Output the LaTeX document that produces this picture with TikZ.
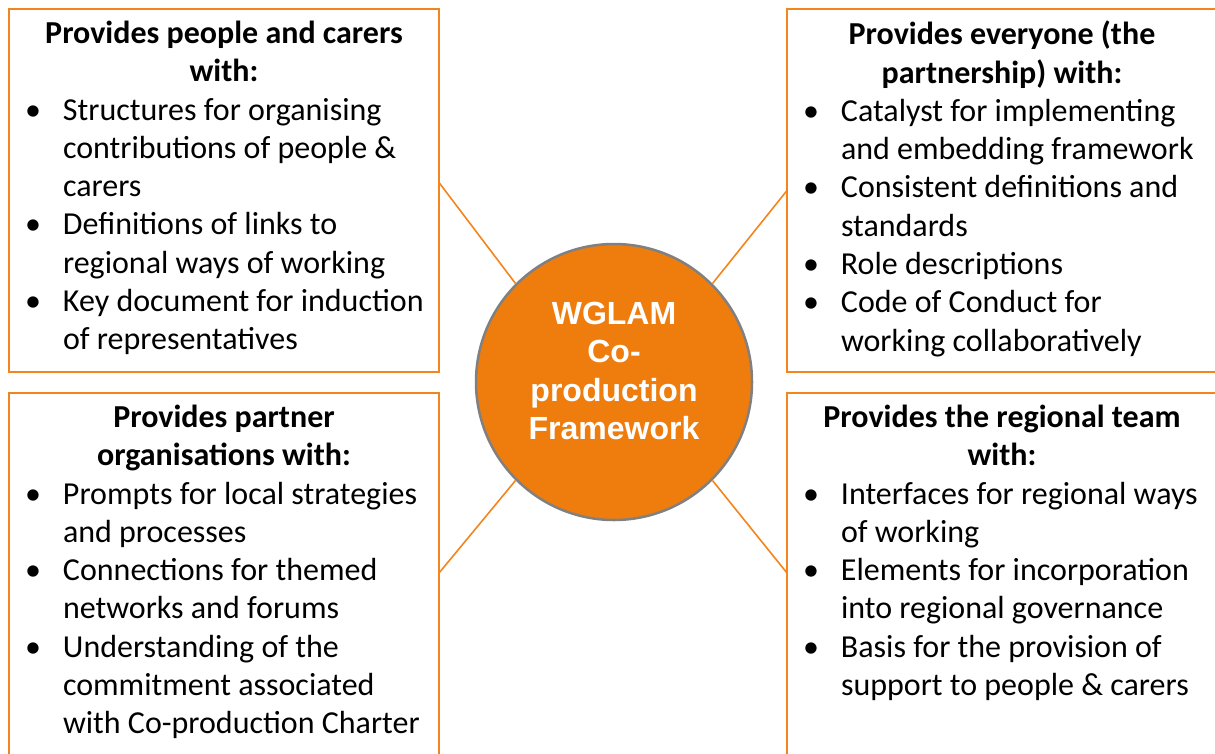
\documentclass[tikz,border=0pt]{standalone}
\usepackage{fontspec}
\setmainfont{Carlito}
\newfontfamily\hubfont{Liberation Sans}
\definecolor{boxorange}{RGB}{244,132,28}
\definecolor{hubfill}{RGB}{238,125,14}
\definecolor{hubline}{RGB}{128,128,128}
\newcommand\panelhead[1]{{\centering\bfseries #1\par}}
\newcommand\pitem[1]{{\raggedright\def\\{\hfil\break}\hangindent=44pt\hangafter=1\noindent\makebox[44pt][l]{\hspace{6pt}\textbullet}#1\par}}

\begin{document}
\begin{tikzpicture}[x=1pt,y=-1pt,
		panel/.style={draw=boxorange, line width=2.5pt, fill=white, outer sep=0pt,
			inner xsep=10pt, inner ysep=12pt, anchor=north west,
			font={\fontsize{32}{38.3}\selectfont}},
		hub/.style={circle, fill=hubfill, draw=hubline, line width=2.5pt,
			minimum size=276pt, inner sep=0pt},
		hubtext/.style={text=white, align=center,
			font={\hubfont\bfseries\fontsize{32}{38.6}\selectfont}},
		link/.style={draw=boxorange, line width=1.6pt}]
		\useasboundingbox (0,0) rectangle (1215,753);
		% four panels
		\node[panel] (tl) at (9,9) {\parbox[t][339pt][t]{410pt}{%
				\panelhead{Provides people and carers\\with:}
				\pitem{Structures for organising\\contributions of people \&\\carers}
				\pitem{Definitions of links to\\regional ways of working}
				\pitem{Key document for induction\\of representatives}}};
		\node[panel] (tr) at (787,9) {\parbox[t][339pt][t]{410pt}{%
				\panelhead{Provides everyone (the\\partnership) with:}
				\pitem{Catalyst for implementing\\and embedding framework}
				\pitem{Consistent definitions and\\standards}
				\pitem{Role descriptions}
				\pitem{Code of Conduct for\\working collaboratively}}};
		\node[panel] (bl) at (9,393) {\parbox[t][346pt][t]{410pt}{%
				\panelhead{Provides partner\\organisations with:}
				\pitem{Prompts for local strategies\\and processes}
				\pitem{Connections for themed\\networks and forums}
				\pitem{Understanding of the\\commitment associated\\with Co-production Charter}}};
		\node[panel] (br) at (787,393) {\parbox[t][346pt][t]{410pt}{%
				\panelhead{Provides the regional team\\with:}
				\pitem{Interfaces for regional ways\\of working}
				\pitem{Elements for incorporation\\into regional governance}
				\pitem{Basis for the provision of\\support to people \& carers}}};
		% centre
		\node[hub] (c) at (614,382) {};
		\foreach \p/\side/\a/\dy in {tl/east/135/8, tr/west/45/0, bl/east/225/5, br/west/-45/5}
		{\draw[link] ([yshift=\dy pt]\p.\side) -- (c.\a);}
		\node[hubtext] (ctext) at ([yshift=11pt]c.center) {WGLAM\\Co-\\production\\Framework};
\end{tikzpicture}
\end{document}
